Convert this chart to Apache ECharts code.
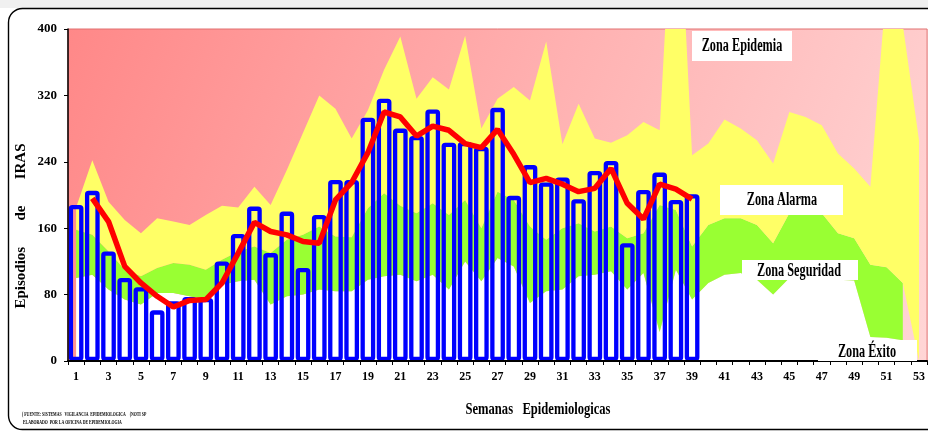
<!DOCTYPE html>
<html>
<head>
<meta charset="utf-8">
<script src="https://cdn.jsdelivr.net/npm/echarts@6/dist/echarts.min.js"></script>
<style>
html,body{margin:0;padding:0;background:#fff;}
#chart{width:928px;height:432px;}
</style>
</head>
<body>
<div id="chart"></div>
<script>
// Semanas epidemiológicas (categorías)
const semanas = ['1','2','3','4','5','6','7','8','9','10','11','12','13','14','15','16','17','18','19','20','21','22','23','24','25','26','27','28','29','30','31','32','33','34','35','36','37','38','39','40','41','42','43','44','45','46','47','48','49','50','51','52','53'];

// Episodios de IRAS por semana (barras)
const casos = [188,205,132,100,89,61,72,77,76,120,153,186,130,180,112,176,218,218,293,316,280,271,303,263,264,258,305,199,236,215,221,195,229,241,142,206,227,194,201];

// Línea roja (promedio)
const promedio = ['-',196,168,114,94,78,65,73,74,94,130,167,156,152,144,142,194,215,251,300,294,271,283,278,262,257,279,249,215,220,213,204,208,232,190,171,213,207,195];

// Límite superior de cada zona del canal endémico
const limiteExito = [100,104,86,74,68,82,82,78,74,92,96,98,68,78,80,86,84,84,98,102,104,96,104,86,120,96,124,114,70,84,86,102,104,108,86,106,35,110,74,94,104,106,98,80,100,102,100,98,97,29,28,25,'-'];
const limiteSeguridad = [158,152,132,110,102,112,118,116,110,122,132,138,130,146,152,162,150,149,184,202,187,178,190,176,194,160,204,194,162,146,160,166,156,162,148,154,188,182,138,164,172,172,164,142,178,178,178,154,148,116,113,94,'-'];
const limiteAlarma = [185,242,192,170,154,172,168,164,176,187,185,210,188,230,275,320,304,268,302,351,391,316,342,327,392,280,316,330,314,385,261,310,268,263,272,288,278,640,248,262,291,280,266,238,300,294,284,250,232,210,455,405,266];

// Escala del eje Y
const yTicks = {min:0, max:400, interval:80};

// stacked bands built from the limits
const isNum = v => typeof v === 'number';
const bandExito = limiteExito.slice();
const bandSeguridad = limiteSeguridad.map((v,i) => isNum(v) && isNum(limiteExito[i]) ? v - limiteExito[i] : '-');
const bandAlarma = limiteAlarma.map((v,i) => isNum(limiteSeguridad[i]) ? v - limiteSeguridad[i] : v);

const serif = 'Liberation Serif, Times New Roman, serif';

const chart = echarts.init(document.getElementById('chart'), null, {renderer:'canvas'});

function zoneLabel(text, bx, by, bw, bh, cx, cy) {
  return [
    {type:'rect', z:100, shape:{x:bx, y:by, width:bw, height:bh}, style:{fill:'#fff'}},
    {type:'text', z:101, x:cx, y:cy, scaleX:0.68,
     style:{text:text, fill:'#000', font:'bold 18px ' + serif, textAlign:'center', textVerticalAlign:'middle'}}
  ];
}

const area = (name, data, color) => ({
  name, type:'line', stack:'zona', data, symbol:'none', showSymbol:false,
  lineStyle:{width:0, opacity:0}, areaStyle:{color, opacity:1}, z:1, silent:true
});

chart.setOption({
  animation:false,
  backgroundColor:'#fff',
  grid:{left:68, top:29, width:861, height:332, show:true,
    backgroundColor:{type:'linear', x:0, y:0, x2:1, y2:1,
      colorStops:[{offset:0,color:'#FF8888'},{offset:0.5,color:'#FFB0B0'},{offset:1,color:'#FFD6D6'}]},
    borderColor:'#E07070', borderWidth:1},
  xAxis:{type:'category', data:semanas, boundaryGap:true,
    axisLine:{lineStyle:{color:'#000', width:2}},
    axisTick:{show:true, interval:0, length:4, lineStyle:{color:'#000', width:1}},
    axisLabel:{interval:1, color:'#000', fontFamily:serif, fontWeight:'bold', fontSize:12, margin:10},
    splitLine:{show:false}, z:10},
  yAxis:{type:'value', min:yTicks.min, max:yTicks.max, interval:yTicks.interval,
    axisLine:{show:true, lineStyle:{color:'#000', width:1.5}},
    axisTick:{show:true, length:4, lineStyle:{color:'#000'}},
    axisLabel:{color:'#000', fontFamily:serif, fontWeight:'bold', fontSize:13, margin:11},
    splitLine:{show:false}, z:10},
  series:[
    area('Zona Éxito', bandExito, '#FFFFFF'),
    area('Zona Seguridad', bandSeguridad, '#99FF33'),
    area('Zona Alarma', bandAlarma, '#FFFF66'),
    {name:'Casos', type:'bar', data:casos, barWidth:14.7, z:3,
     itemStyle:{color:'rgba(0,0,0,0)', borderColor:'#0000FF', borderWidth:4.3, borderRadius:1.5}},
    {name:'Promedio', type:'line', data:promedio, symbol:'none', showSymbol:false, z:4,
     lineStyle:{color:'#FF0000', width:5.5}, connectNulls:false}
  ],
  graphic:{elements:[
    {type:'rect', z:0, shape:{x:0, y:0, width:928, height:8}, style:{fill:'#F0F0F0'}},
    {type:'rect', z:0, shape:{x:8.5, y:8.5, width:1000, height:421, r:14}, style:{fill:'none', stroke:'#000', lineWidth:1.4}},
    ...zoneLabel('Zona Epidemia', 692, 31, 100, 30, 742, 46),
    ...zoneLabel('Zona Alarma', 720, 185, 123, 30, 782, 200),
    ...zoneLabel('Zona Seguridad', 742, 260, 116, 20, 799, 271),
    ...zoneLabel('Zona Éxito', 818, 340, 99, 21, 867, 352),
    {type:'text', z:101, x:21, y:226, rotation:Math.PI/2,
     style:{text:'Episodios       de       IRAS', fill:'#000', font:'bold 15px ' + serif, textAlign:'center', textVerticalAlign:'middle'}},
    {type:'text', z:101, x:538, y:410, scaleX:0.786,
     style:{text:'Semanas   Epidemiologicas', fill:'#000', font:'bold 16px ' + serif, textAlign:'center', textVerticalAlign:'middle'}},
    {type:'text', z:101, x:22, y:414, scaleX:0.55,
     style:{text:'( FUENTE: SISTEMAS   VIGILANCIA  EPIDEMIOLOGICA    (NOTI SP', fill:'#000', font:'bold 7px ' + serif, textAlign:'left', textVerticalAlign:'middle'}},
    {type:'text', z:101, x:23, y:422, scaleX:0.55,
     style:{text:'ELABORADO  POR LA OFICINA DE EPIDEMIOLOGIA', fill:'#000', font:'bold 7px ' + serif, textAlign:'left', textVerticalAlign:'middle'}}
  ]}
});
</script>
</body>
</html>
